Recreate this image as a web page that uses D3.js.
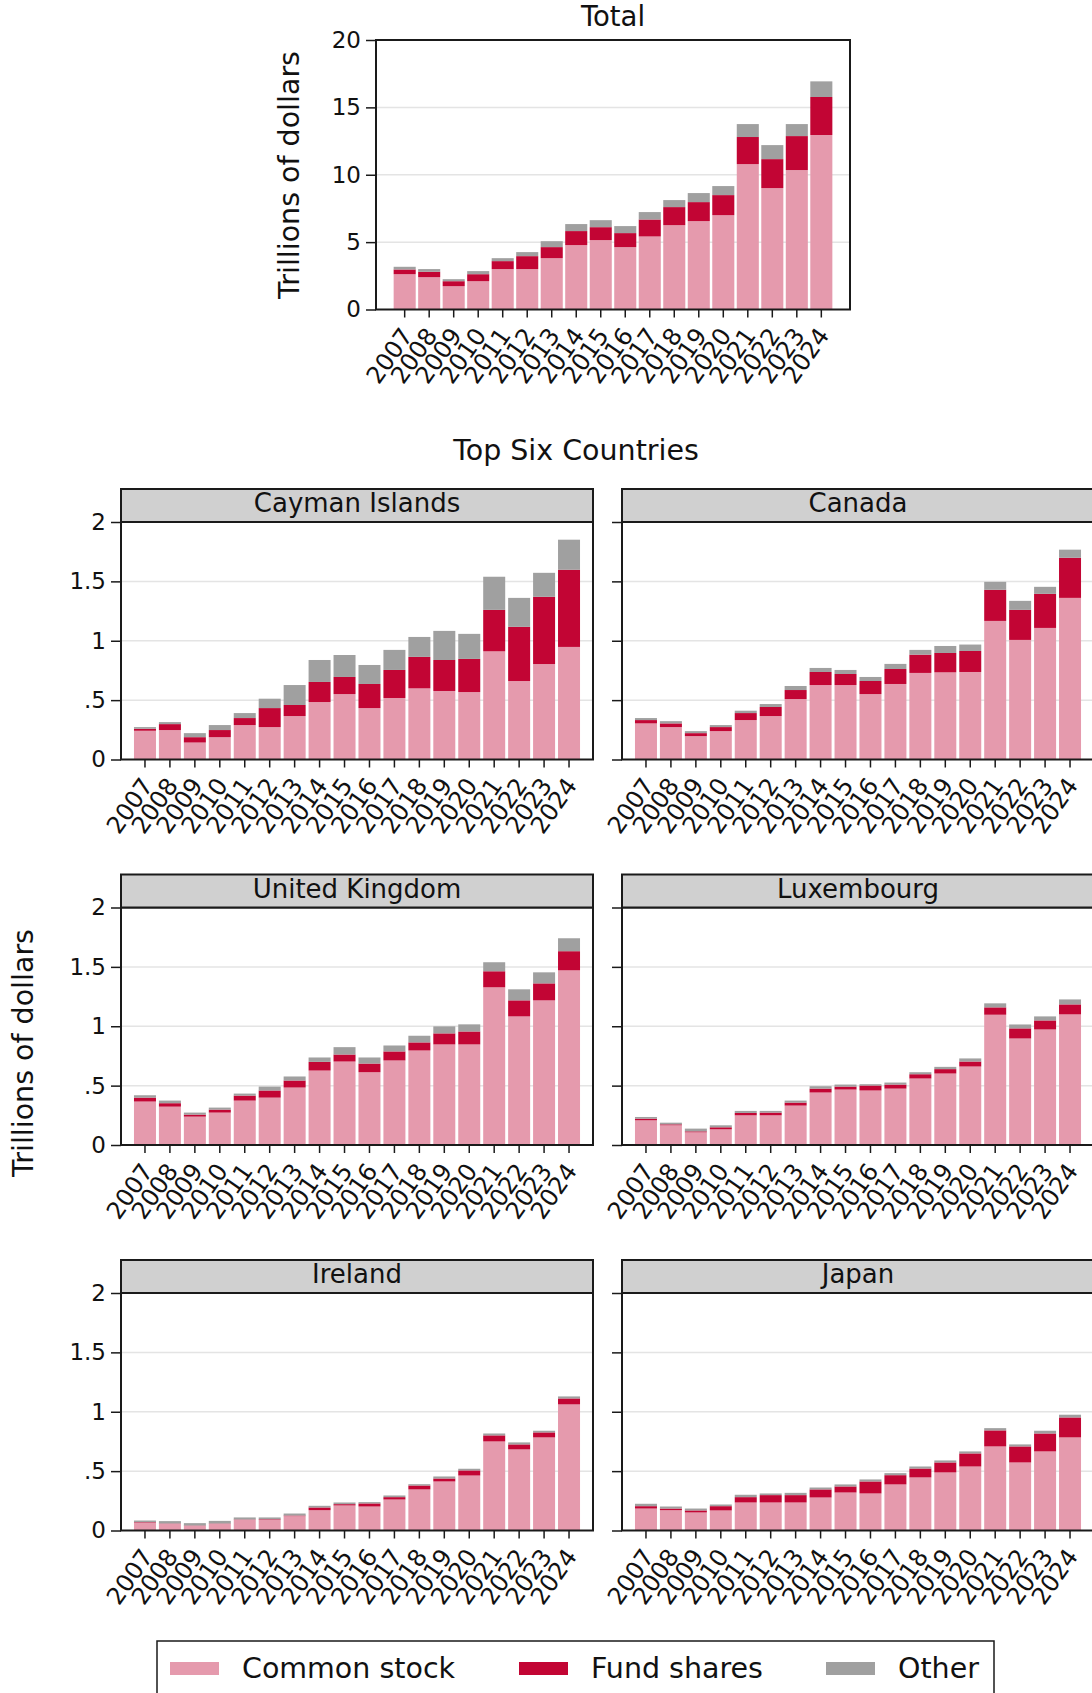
<!DOCTYPE html>
<html lang="en">
<head>
<meta charset="UTF-8">
<title>Holdings of foreign equity by type</title>
<script src="https://d3js.org/d3.v7.min.js"></script>
<style>
    body { margin: 0; background: #fff; font-family: "DejaVu Sans", sans-serif; }
    svg { display: block; }
    .tick-label { font-size: 23px; fill: #111; }
    .year-label { font-size: 24px; fill: #111; }
    .grid line { stroke: #e4e4e4; stroke-width: 1.5; }
</style>
</head>
<body>
<svg id="chart" width="1092" height="1693"></svg>
<script>
// years on the x axis
const years = ["2007","2008","2009","2010","2011","2012","2013","2014","2015",
               "2016","2017","2018","2019","2020","2021","2022","2023","2024"];
const seriesNames = ["Common stock", "Fund shares", "Other"];

// Total (trillions of dollars)
const totalCommon = [2.62,2.40,1.73,2.10,3.00,3.00,3.81,4.78,5.15,4.63,5.42,6.26,6.56,7.00,10.79,9.01,10.35,12.95];
const totalFund   = [0.35,0.40,0.37,0.52,0.59,0.96,0.82,1.04,0.96,1.04,1.26,1.34,1.41,1.49,2.01,2.15,2.52,2.82];
const totalOther  = [0.20,0.20,0.15,0.23,0.22,0.30,0.44,0.52,0.52,0.52,0.55,0.52,0.67,0.67,0.96,1.04,0.89,1.16];

// top six countries
const caymanCommon = [0.242,0.248,0.143,0.188,0.290,0.273,0.366,0.484,0.551,0.433,0.518,0.599,0.577,0.568,0.911,0.661,0.804,0.948];
const caymanFund   = [0.017,0.050,0.045,0.060,0.059,0.160,0.093,0.169,0.144,0.203,0.236,0.265,0.261,0.279,0.349,0.456,0.566,0.650];
const caymanOther  = [0.014,0.017,0.034,0.042,0.042,0.079,0.168,0.185,0.185,0.160,0.169,0.168,0.245,0.211,0.279,0.244,0.202,0.253];

const canadaCommon = [0.304,0.273,0.197,0.239,0.332,0.366,0.509,0.627,0.627,0.551,0.636,0.729,0.734,0.737,1.167,1.007,1.108,1.361];
const canadaFund   = [0.028,0.031,0.025,0.034,0.059,0.076,0.076,0.110,0.093,0.110,0.126,0.154,0.163,0.177,0.262,0.253,0.287,0.338];
const canadaOther  = [0.017,0.019,0.017,0.017,0.020,0.025,0.034,0.034,0.034,0.034,0.043,0.040,0.059,0.054,0.067,0.076,0.059,0.068];

const ukCommon = [0.366,0.323,0.239,0.273,0.374,0.399,0.484,0.627,0.703,0.613,0.712,0.796,0.847,0.847,1.328,1.083,1.218,1.471];
const ukFund   = [0.033,0.029,0.017,0.025,0.042,0.060,0.059,0.073,0.059,0.073,0.076,0.068,0.093,0.109,0.135,0.135,0.143,0.161];
const ukOther  = [0.020,0.022,0.017,0.017,0.017,0.033,0.034,0.037,0.062,0.051,0.050,0.056,0.059,0.060,0.076,0.093,0.093,0.109];

const luxCommon = [0.208,0.166,0.107,0.132,0.250,0.250,0.332,0.442,0.467,0.459,0.475,0.560,0.602,0.661,1.097,0.897,0.973,1.100];
const luxFund   = [0.014,0.008,0.008,0.017,0.020,0.023,0.025,0.033,0.025,0.042,0.034,0.036,0.037,0.042,0.062,0.085,0.076,0.084];
const luxOther  = [0.014,0.014,0.023,0.017,0.017,0.014,0.017,0.020,0.017,0.011,0.017,0.017,0.019,0.026,0.034,0.033,0.034,0.042];

const irelandCommon = [0.065,0.056,0.039,0.056,0.090,0.090,0.121,0.171,0.211,0.202,0.261,0.346,0.413,0.463,0.750,0.683,0.784,1.062];
const irelandFund   = [0.005,0.003,0.003,0.003,0.003,0.005,0.005,0.023,0.011,0.026,0.020,0.033,0.025,0.043,0.051,0.042,0.042,0.050];
const irelandOther  = [0.014,0.020,0.020,0.022,0.017,0.015,0.017,0.014,0.014,0.011,0.014,0.011,0.017,0.014,0.016,0.017,0.014,0.017];

const japanCommon = [0.185,0.171,0.152,0.169,0.236,0.236,0.236,0.278,0.320,0.312,0.388,0.447,0.489,0.539,0.708,0.573,0.666,0.784];
const japanFund   = [0.020,0.014,0.017,0.036,0.045,0.062,0.062,0.068,0.051,0.101,0.078,0.075,0.084,0.110,0.135,0.135,0.151,0.168];
const japanOther  = [0.020,0.017,0.016,0.014,0.020,0.014,0.019,0.016,0.017,0.017,0.017,0.017,0.017,0.017,0.019,0.017,0.023,0.023];

const totalTicks = [0, 5, 10, 15, 20];
const countryTicks = [0, 0.5, 1, 1.5, 2];

const colors = ["#e59aad", "#c20534", "#a0a0a0"];

const svg = d3.select("#chart");
svg.append("rect").attr("width", 1092).attr("height", 1693).attr("fill", "#fff");

// build stacked rows from the three series of one panel
function stackRows(common, fund, other) {
    const rows = years.map((yr, i) => ({ year: yr, s0: common[i], s1: fund[i], s2: other[i] }));
    return d3.stack().keys(["s0", "s1", "s2"])(rows);
}

function drawPanel(cfg) {
    const g = svg.append("g");
    const x = d3.scaleBand().domain(years)
        .range([cfg.x0, cfg.x1])
        .paddingInner(cfg.padIn)
        .paddingOuter(cfg.padOut);
    const y = d3.scaleLinear().domain([0, cfg.yMax]).range([cfg.y1, cfg.y0]);

    // grid lines
    g.append("g").attr("class", "grid")
        .selectAll("line")
        .data(cfg.ticks.filter(t => t > 0 && t < cfg.yMax))
        .join("line")
        .attr("x1", cfg.x0).attr("x2", cfg.x1)
        .attr("y1", d => y(d)).attr("y2", d => y(d));

    // stacked bars
    const stacked = stackRows(cfg.common, cfg.fund, cfg.other);
    g.selectAll("g.layer")
        .data(stacked)
        .join("g")
        .attr("class", "layer")
        .attr("fill", (d, i) => colors[i])
        .selectAll("rect")
        .data(d => d)
        .join("rect")
        .attr("x", d => x(d.data.year))
        .attr("width", x.bandwidth())
        .attr("y", d => y(d[1]))
        .attr("height", d => y(d[0]) - y(d[1]));

    // frame
    g.append("rect")
        .attr("x", cfg.x0).attr("y", cfg.y0)
        .attr("width", cfg.x1 - cfg.x0).attr("height", cfg.y1 - cfg.y0)
        .attr("fill", "none").attr("stroke", "#1a1a1a").attr("stroke-width", 2);

    // y axis
    const yAxis = g.append("g")
        .attr("transform", `translate(${cfg.x0},0)`)
        .call(d3.axisLeft(y).tickValues(cfg.ticks).tickSize(10).tickPadding(5)
            .tickFormat(cfg.showY ? (d => String(d).replace(/^0\./, ".")) : ""));
    yAxis.select(".domain").remove();
    yAxis.selectAll(".tick line").attr("stroke", "#1a1a1a").attr("stroke-width", 1.5);
    yAxis.selectAll("text").attr("class", "tick-label").attr("font-family", "DejaVu Sans");

    // x axis
    const xAxis = g.append("g")
        .attr("transform", `translate(0,${cfg.y1})`)
        .call(d3.axisBottom(x).tickSize(8).tickFormat(""));
    xAxis.select(".domain").remove();
    xAxis.selectAll(".tick line").attr("stroke", "#1a1a1a").attr("stroke-width", 1.5);

    g.append("g").selectAll("text")
        .data(years)
        .join("text")
        .attr("class", "year-label")
        .attr("text-anchor", "end")
        .attr("transform", d => `translate(${x(d) + x.bandwidth() / 2 + 9},${cfg.y1 + 26}) rotate(-55)`)
        .text(d => d);

    // strip label
    if (cfg.strip) {
        g.append("rect")
            .attr("x", cfg.x0).attr("y", cfg.y0 - 33)
            .attr("width", cfg.x1 - cfg.x0).attr("height", 33)
            .attr("fill", "#d0d0d0").attr("stroke", "#1a1a1a").attr("stroke-width", 2);
        g.append("text")
            .attr("x", (cfg.x0 + cfg.x1) / 2).attr("y", cfg.y0 - 10)
            .attr("text-anchor", "middle")
            .style("font-size", "26px").attr("fill", "#111")
            .text(cfg.strip);
    }
}

// Total panel
drawPanel({
    x0: 376, x1: 850, y0: 40, y1: 309.5, padIn: 0.1, padOut: 0.72,
    yMax: 20, ticks: totalTicks, showY: true,
    common: totalCommon, fund: totalFund, other: totalOther
});
svg.append("text").attr("x", 613).attr("y", 26).attr("text-anchor", "middle")
    .style("font-size", "27.5px").attr("fill", "#111").text("Total");
svg.append("text").attr("transform", "translate(299,175) rotate(-90)")
    .attr("text-anchor", "middle").style("font-size", "28.5px").attr("fill", "#111")
    .text("Trillions of dollars");

// country panels
const cols = [[121, 593], [622, 1094]];
const rowTops = [522, 907.5, 1293];
const countryPanels = [
    { strip: "Cayman Islands", common: caymanCommon, fund: caymanFund, other: caymanOther },
    { strip: "Canada", common: canadaCommon, fund: canadaFund, other: canadaOther },
    { strip: "United Kingdom", common: ukCommon, fund: ukFund, other: ukOther },
    { strip: "Luxembourg", common: luxCommon, fund: luxFund, other: luxOther },
    { strip: "Ireland", common: irelandCommon, fund: irelandFund, other: irelandOther },
    { strip: "Japan", common: japanCommon, fund: japanFund, other: japanOther }
];
countryPanels.forEach((p, i) => {
    const c = cols[i % 2];
    const top = rowTops[Math.floor(i / 2)];
    drawPanel(Object.assign({
        x0: c[0], x1: c[1], y0: top, y1: top + 237.5,
        padIn: 0.118, padOut: 0.52,
        yMax: 2, ticks: countryTicks, showY: i % 2 === 0
    }, p));
});

svg.append("text").attr("x", 576).attr("y", 460).attr("text-anchor", "middle")
    .style("font-size", "28.5px").attr("fill", "#111").text("Top Six Countries");
svg.append("text").attr("transform", "translate(33,1053) rotate(-90)")
    .attr("text-anchor", "middle").style("font-size", "28.5px").attr("fill", "#111")
    .text("Trillions of dollars");

// legend
const legend = svg.append("g");
legend.append("rect")
    .attr("x", 157).attr("y", 1641).attr("width", 837).attr("height", 80)
    .attr("fill", "none").attr("stroke", "#1a1a1a").attr("stroke-width", 1.5);
const legendX = [170, 519, 826];
seriesNames.forEach((name, i) => {
    legend.append("rect").attr("x", legendX[i]).attr("y", 1662)
        .attr("width", 49).attr("height", 13).attr("fill", colors[i]);
    legend.append("text").attr("x", legendX[i] + 72).attr("y", 1678)
        .style("font-size", "28.5px").attr("fill", "#111").text(name);
});
</script>
</body>
</html>
